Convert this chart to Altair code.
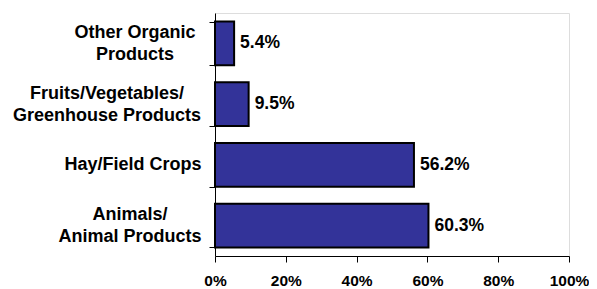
import altair as alt
import pandas as pd

categories = ["Other Organic|Products", "Fruits/Vegetables/|Greenhouse Products",
              "Hay/Field Crops", "Animals/|Animal Products"]
values = [5.4, 9.5, 56.2, 60.3]
labels = ["5.4%", "9.5%", "56.2%", "60.3%"]

df = pd.DataFrame({"cat": categories, "val": values, "lab": labels})

FONT = "Liberation Sans"
# horizontal centre of each category label block, in px left of the axis line
label_centres = [-80, -108, -82, -85]
LINE_H = 22

y_enc = alt.Y("cat:N", sort=categories, title=None,
              scale=alt.Scale(paddingInner=0.28, paddingOuter=0.14),
              axis=alt.Axis(labels=False, tickSize=6, tickBand="extent", tickColor="black",
                            domainColor="black", tickWidth=1, domainWidth=1))

bars = alt.Chart(df).mark_bar(color="#333399", stroke="black", strokeWidth=2).encode(
    x=alt.X("val:Q", title=None, scale=alt.Scale(domain=[0, 100], nice=False),
            axis=alt.Axis(values=[0, 20, 40, 60, 80, 100], labelExpr="datum.value + '%'",
                          labelFont=FONT, labelFontSize=15.5, labelFontWeight="bold",
                          labelColor="black", labelPadding=11, tickSize=6, tickColor="black",
                          domainColor="black", grid=False, labelFlush=False)),
    y=y_enc,
)

value_text = alt.Chart(df).mark_text(align="left", baseline="middle", dx=6, font=FONT,
                                     fontSize=17.5, fontWeight="bold", color="black").encode(
    x="val:Q", y=y_enc, text="lab:N")

# category labels: one text layer per label line, each line centred on its block
label_layers = []
for cat, centre in zip(categories, label_centres):
    lines = cat.split("|")
    n = len(lines)
    for j, line in enumerate(lines):
        off = (j - (n - 1) / 2) * LINE_H + 0.5
        label_layers.append(
            alt.Chart(df).transform_filter(alt.datum.cat == cat).mark_text(
                text=line, align="center", baseline="middle", dy=off, font=FONT,
                fontSize=18, fontWeight="bold", color="black"
            ).encode(x=alt.value(centre), y=y_enc)
        )

chart = alt.layer(bars, value_text, *label_layers).properties(
    width=354, height=243,
    autosize=alt.AutoSizeParams(type="none"),
    padding={"left": 207, "top": 5, "right": 20, "bottom": 40},
).configure_view(stroke=None).configure(background="white")

chart.save("out.html", embed_options={"renderer": "svg", "actions": False})
